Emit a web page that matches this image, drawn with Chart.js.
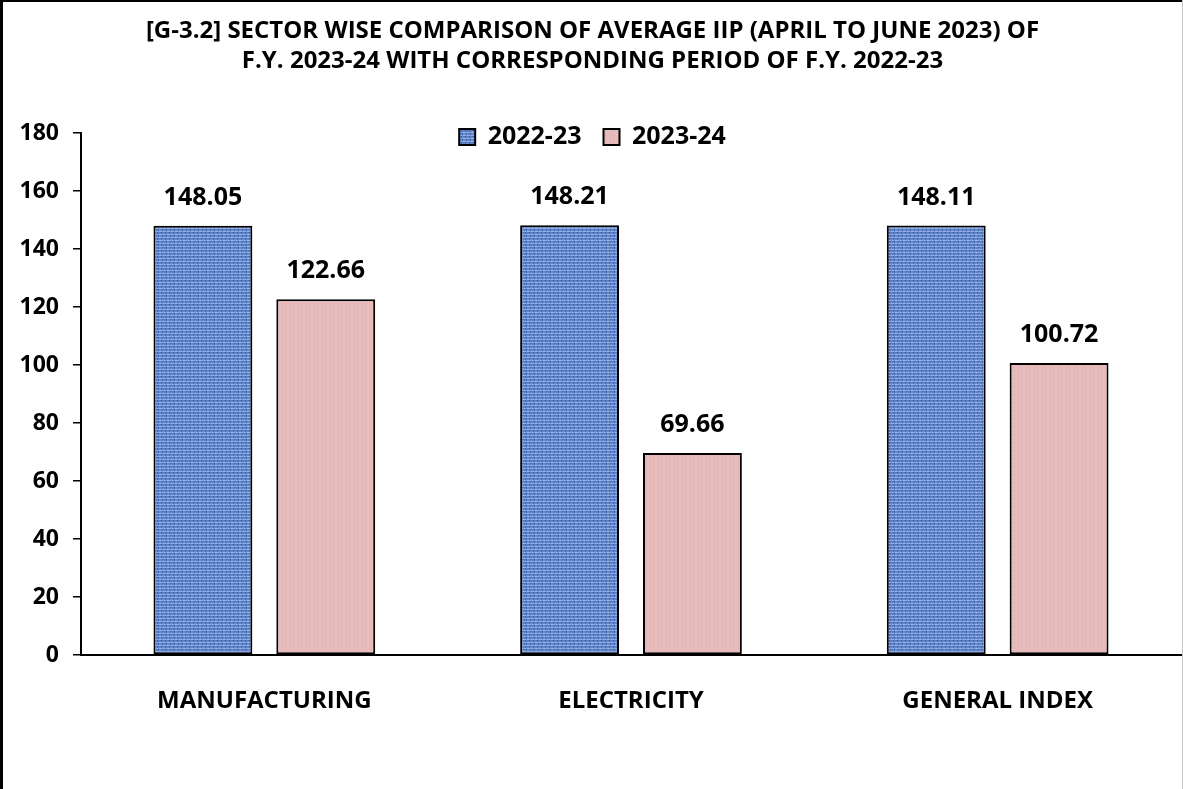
<!DOCTYPE html>
<html>
<head>
<meta charset="utf-8">
<script src="https://cdn.jsdelivr.net/npm/chart.js@4.4.0/dist/chart.umd.min.js"></script>
<style>
  html, body { margin: 0; padding: 0; background: #fff; }
  #wrap { width: 1183px; height: 789px; position: relative; }
</style>
</head>
<body>
<div id="wrap"><canvas id="chart" width="1183" height="789"></canvas></div>
<script>
// data
const categories = ["MANUFACTURING", "ELECTRICITY", "GENERAL INDEX"];
const seriesNames = ["2022-23", "2023-24"];
const values2022 = [148.05, 148.21, 148.11];
const values2023 = [122.66, 69.66, 100.72];
const yTicks = [0, 20, 40, 60, 80, 100, 120, 140, 160, 180];
const titleLines = [
  "[G-3.2] SECTOR WISE COMPARISON OF AVERAGE IIP (APRIL TO JUNE 2023) OF",
  "F.Y. 2023-24 WITH CORRESPONDING PERIOD OF F.Y. 2022-23"
];

const FONT = "'Open Sans', 'Noto Sans', sans-serif";

// woven-looking fills, like the office texture fills in the original
// each letter of the weave map is one pixel of the repeating tile
function makePattern(weave, colors) {
  const c = document.createElement("canvas");
  c.width = weave[0].length; c.height = weave.length;
  const g = c.getContext("2d");
  weave.forEach((row, y) => {
    [...row].forEach((k, x) => {
      g.fillStyle = colors[k];
      g.fillRect(x, y, 1, 1);
    });
  });
  return g.createPattern(c, "repeat");
}
const blueFill = makePattern([
  "lllmllml",
  "mbdmbbdm",
  "mbmmbmbm",
  "llmlllml",
  "bdmbbdmb",
  "mbbmmbbm"
], { l: "#93b2e6", m: "#6a8dcf", b: "#5276bb", d: "#3b5ca1" });
const pinkFill = makePattern([
  "ppppqppp",
  "pprppppq",
  "qppppppp",
  "ppppprpp"
], { p: "#e6b9ba", q: "#ecc4c4", r: "#dfb0b1" });

// value labels above the bars
const valueLabels = {
  id: "valueLabels",
  afterDatasetsDraw(chart) {
    const ctx = chart.ctx;
    ctx.save();
    ctx.font = "bold 25px " + FONT;
    ctx.fillStyle = "#000";
    ctx.textAlign = "center";
    ctx.textBaseline = "middle";
    chart.data.datasets.forEach((ds, i) => {
      chart.getDatasetMeta(i).data.forEach((bar, j) => {
        ctx.fillText(ds.data[j].toFixed(2), bar.x, bar.y - 28);
      });
    });
    ctx.restore();
  }
};

// the legend sits inside the plot, just under the top tick
const legendInPlot = {
  id: "legendInPlot",
  afterLayout(chart) {
    const lg = chart.legend;
    if (!lg) return;
    const shift = chart.chartArea.top - 2 - (lg.top + lg.height / 2);
    lg.top += shift;
    lg.bottom += shift;
  }
};

// white page and the frame round it
const frame = {
  id: "frame",
  beforeDraw(chart) {
    const ctx = chart.ctx;
    ctx.save();
    ctx.fillStyle = "#fff";
    ctx.fillRect(0, 0, chart.width, chart.height);
    ctx.restore();
  },
  afterDraw(chart) {
    const ctx = chart.ctx;
    ctx.save();
    ctx.fillStyle = "#000";
    ctx.fillRect(0, 0, 3, chart.height);
    ctx.fillRect(0, 0, chart.width, 2);
    ctx.fillStyle = "#c8c8c8";
    ctx.fillRect(chart.width - 1, 0, 1, chart.height);
    ctx.restore();
  }
};

new Chart(document.getElementById("chart").getContext("2d"), {
  type: "bar",
  data: {
    labels: categories,
    datasets: [
      {
        label: seriesNames[0],
        data: values2022,
        backgroundColor: blueFill,
        borderColor: "#000",
        borderWidth: 2,
        borderSkipped: false
      },
      {
        label: seriesNames[1],
        data: values2023,
        backgroundColor: pinkFill,
        borderColor: "#000",
        borderWidth: 2,
        borderSkipped: false
      }
    ]
  },
  options: {
    responsive: false,
    animation: false,
    devicePixelRatio: 1,
    categoryPercentage: 0.67,
    barPercentage: 0.805,
    layout: { padding: { left: 4, right: 2, top: 0, bottom: 0 } },
    plugins: {
      title: {
        display: true,
        text: titleLines,
        color: "#000",
        font: { family: FONT, size: 24, weight: "bold", lineHeight: "30px" },
        padding: { top: 16, bottom: 0 }
      },
      legend: {
        position: "top",
        align: "center",
        labels: {
          color: "#000",
          font: { family: FONT, size: 25, weight: "bold" },
          boxWidth: 16,
          boxHeight: 16,
          padding: 22
        }
      },
      tooltip: { enabled: false }
    },
    scales: {
      x: {
        grid: { display: false, drawTicks: false },
        border: { display: true, color: "#000", width: 2 },
        ticks: {
          color: "#000",
          font: { family: FONT, size: 24, weight: "bold" },
          padding: 32,
          maxRotation: 0
        },
        afterFit(scale) { scale.height = 134; }
      },
      y: {
        min: 0,
        max: 180,
        afterBuildTicks(scale) { scale.ticks = yTicks.map(v => ({ value: v })); },
        grid: { drawOnChartArea: false, drawTicks: true, tickLength: 8, color: "#000", lineWidth: 1.5 },
        border: { display: true, color: "#000", width: 2 },
        ticks: {
          color: "#000",
          font: { family: FONT, size: 23, weight: "bold" },
          padding: 14
        },
        afterFit(scale) { scale.width = 77; }
      }
    }
  },
  plugins: [frame, legendInPlot, valueLabels]
});
</script>
</body>
</html>
